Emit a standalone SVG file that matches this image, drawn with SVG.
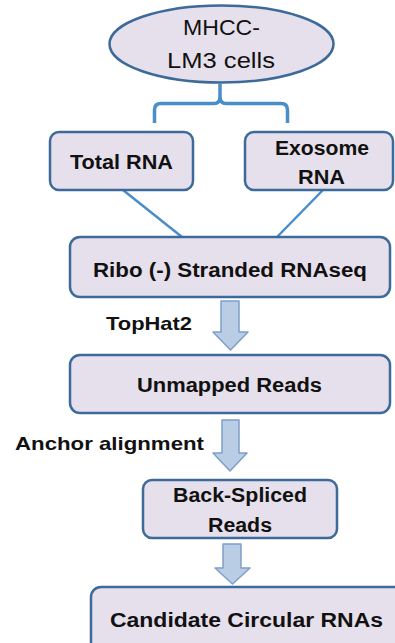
<svg xmlns="http://www.w3.org/2000/svg" width="395" height="643" viewBox="0 0 395 643">
<style>
.box{fill:#e6e0ec;stroke:#3d6a98;stroke-width:2.5}
.t{font-family:"Liberation Sans",Arial,sans-serif;font-weight:bold;font-size:20px;fill:#111;text-anchor:middle}
.r{font-family:"Liberation Sans",Arial,sans-serif;font-size:22px;fill:#111;text-anchor:middle}
.lbl{font-family:"Liberation Sans",Arial,sans-serif;font-weight:bold;font-size:19px;fill:#111}
.ln{fill:none;stroke:#4a8dcb;stroke-width:2.5}
.br{fill:none;stroke:#4a8dcb;stroke-width:3.5;stroke-linejoin:round}
.ar{fill:#b9cde5;stroke:#7f9fc8;stroke-width:1.5;stroke-linejoin:round}
</style>
<rect width="395" height="643" fill="#ffffff"/>
<g id="cells">
<ellipse cx="221.5" cy="44" rx="112" ry="38.5" class="box" fill="#e6e0ec"/>
<text class="r" x="221.5" y="35" textLength="77" lengthAdjust="spacingAndGlyphs">MHCC-</text>
<text class="r" x="221" y="68" textLength="108" lengthAdjust="spacingAndGlyphs">LM3 cells</text>
</g>
<g id="connectors">
<path class="br" d="M220,83 V97 Q220,103.5 214,103.5 H161 Q154.5,103.5 154.5,110 V123"/>
<path class="br" d="M220,97 Q220,103.5 226,103.5 H281 Q287.5,103.5 287.5,110 V123"/>
<line class="ln" x1="123" y1="190" x2="182" y2="237"/>
<line class="ln" x1="323" y1="190" x2="277" y2="237"/>
<path class="ar" d="M221,301 H239 V332 H248 L230.5,350 L213,332 H221 Z"/>
<path class="ar" d="M222,420 H239 V453 H247 L230,471 L213,453 H222 Z"/>
<path class="ar" d="M223,544 H241 V568 H250 L232.5,584 L215,568 H223 Z"/>
</g>
<g id="total-rna">
<rect class="box" x="50" y="132" width="143" height="58" rx="9"/>
<text class="t" x="121.5" y="169" textLength="103" lengthAdjust="spacingAndGlyphs">Total RNA</text>
</g>
<g id="exosome-rna">
<rect class="box" x="245" y="132" width="148" height="58" rx="9"/>
<text class="t" x="322" y="155" textLength="94" lengthAdjust="spacingAndGlyphs">Exosome</text>
<text class="t" x="321.5" y="184" textLength="47" lengthAdjust="spacingAndGlyphs">RNA</text>
</g>
<g id="ribo">
<rect class="box" x="70" y="237" width="320" height="60" rx="10"/>
<text class="t" x="230" y="277" textLength="274" lengthAdjust="spacingAndGlyphs">Ribo (-) Stranded RNAseq</text>
</g>
<g id="tophat2">
<text class="lbl" x="106" y="330" textLength="86" lengthAdjust="spacingAndGlyphs">TopHat2</text>
</g>
<g id="unmapped">
<rect class="box" x="70" y="355" width="320" height="58" rx="10"/>
<text class="t" x="229.5" y="392" textLength="185" lengthAdjust="spacingAndGlyphs">Unmapped Reads</text>
</g>
<g id="anchor">
<text class="lbl" x="15" y="450" textLength="189" lengthAdjust="spacingAndGlyphs">Anchor alignment</text>
</g>
<g id="back-spliced">
<rect class="box" x="143" y="480" width="194" height="58" rx="9"/>
<text class="t" x="240" y="502" textLength="134" lengthAdjust="spacingAndGlyphs">Back-Spliced</text>
<text class="t" x="240" y="532" textLength="64" lengthAdjust="spacingAndGlyphs">Reads</text>
</g>
<g id="candidate">
<rect class="box" x="91" y="587" width="320" height="70" rx="10"/>
<text class="t" x="246.5" y="627" textLength="273" lengthAdjust="spacingAndGlyphs">Candidate Circular RNAs</text>
</g>
</svg>
